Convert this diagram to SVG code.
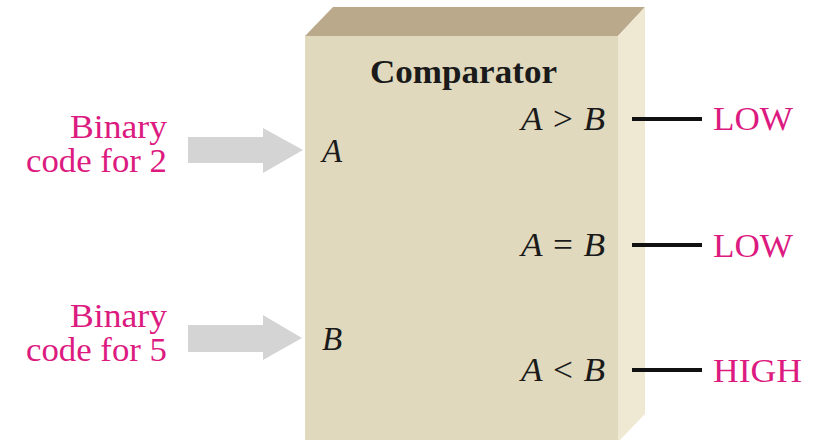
<svg xmlns="http://www.w3.org/2000/svg" width="817" height="440" viewBox="0 0 817 440">
<style>
.lbl{font-family:"Liberation Serif","Times New Roman",serif;font-size:33px;fill:#dc1a80}
.sig{font-family:"Liberation Serif","Times New Roman",serif;font-size:33px;font-style:italic;fill:#1a1a1a}
.title{font-family:"Liberation Serif","Times New Roman",serif;font-size:34px;font-weight:bold;fill:#1a1a1a}
.arrow{fill:#d4d4d4}
.wire{stroke:#111;stroke-width:4}
</style>
<rect width="817" height="440" fill="#ffffff"/>
<g id="comparator">
<polygon points="305,36 333,7 645,7 618,36" fill="#baa98b"/>
<polygon points="618,36 645,7 645,414 618,442" fill="#efe9d4"/>
<rect x="305" y="36" width="313" height="406" fill="#e0d9bd"/>
<text class="title" x="370" y="83" textLength="187" lengthAdjust="spacingAndGlyphs">Comparator</text>
<text class="sig" x="322" y="162">A</text>
<text class="sig" x="322" y="350">B</text>
<text class="sig" x="521" y="130" textLength="84" lengthAdjust="spacingAndGlyphs">A &gt; B</text>
<text class="sig" x="521" y="256" textLength="84" lengthAdjust="spacingAndGlyphs">A = B</text>
<text class="sig" x="521" y="381" textLength="84" lengthAdjust="spacingAndGlyphs">A &lt; B</text>
</g>
<g id="inputA">
<text class="lbl" x="70" y="138" textLength="97" lengthAdjust="spacingAndGlyphs">Binary</text>
<text class="lbl" x="26" y="172" textLength="141" lengthAdjust="spacingAndGlyphs">code for 2</text>
</g>
<g id="inputB">
<text class="lbl" x="70" y="327" textLength="97" lengthAdjust="spacingAndGlyphs">Binary</text>
<text class="lbl" x="26" y="361" textLength="141" lengthAdjust="spacingAndGlyphs">code for 5</text>
</g>
<g id="outGT"><text class="lbl" x="713" y="130" textLength="80" lengthAdjust="spacingAndGlyphs">LOW</text></g>
<g id="outEQ"><text class="lbl" x="713" y="257" textLength="80" lengthAdjust="spacingAndGlyphs">LOW</text></g>
<g id="outLT"><text class="lbl" x="713" y="382" textLength="89" lengthAdjust="spacingAndGlyphs">HIGH</text></g>
<g id="connectors">
<polygon class="arrow" points="188,137 263,137 263,128 303,150 263,173 263,163 188,163"/>
<polygon class="arrow" points="188,325 263,325 263,315 302,338 263,360 263,352 188,352"/>
<line class="wire" x1="632" y1="119" x2="702" y2="119"/>
<line class="wire" x1="632" y1="245" x2="702" y2="245"/>
<line class="wire" x1="632" y1="370" x2="702" y2="370"/>
</g>
</svg>
